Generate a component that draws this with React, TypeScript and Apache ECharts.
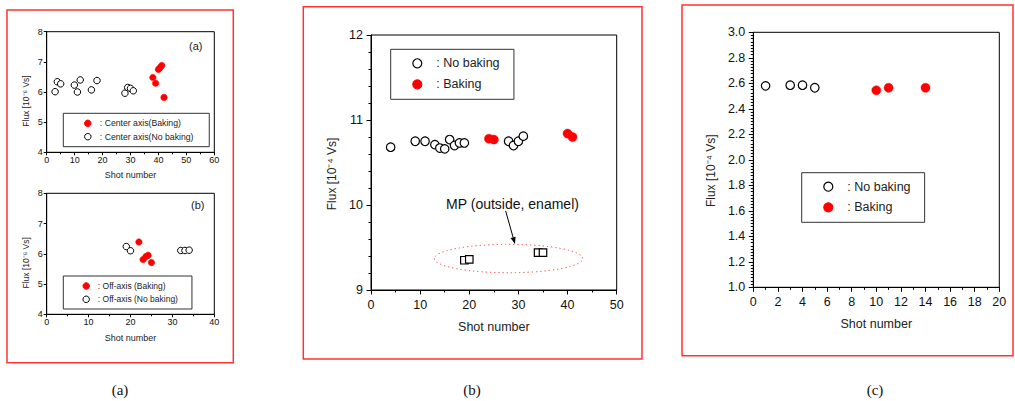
import React, { useEffect, useRef } from "react";
import * as echarts from "echarts";

// ---- data ----
const centerBaking = [[38, 6.48], [39, 6.29], [40, 6.75], [40.6, 6.81], [41.2, 6.88], [42, 5.82]];
const centerNoBaking = [[3, 6.01], [3.8, 6.34], [5, 6.27], [9.9, 6.23], [11, 6.0], [12, 6.4], [16, 6.07], [18, 6.38], [28, 5.96], [29, 6.15], [30, 6.12], [31, 6.04]];
const offBaking = [[22, 6.39], [23, 5.81], [23.7, 5.91], [24.2, 5.95], [25, 5.71]];
const offNoBaking = [[19, 6.24], [20, 6.1], [32, 6.11], [33, 6.11], [34, 6.12]];
const bNoBaking = [[4, 10.68], [9, 10.75], [11, 10.75], [13, 10.71], [14, 10.67], [15, 10.66], [16, 10.77], [17, 10.7], [18, 10.73], [19, 10.73], [28, 10.75], [29, 10.7], [30, 10.75], [31, 10.81]];
const bBaking = [[24, 10.78], [25, 10.77], [40, 10.84], [41, 10.8]];
const mpPoints = [[19, 9.35], [20, 9.36], [34, 9.44], [35, 9.44]];
const cNoBaking = [[1, 2.58], [3, 2.585], [4, 2.585], [5, 2.565]];
const cBaking = [[10, 2.545], [11, 2.565], [14, 2.565]];
// annotation (data coordinates): ellipse centre + radii, arrow, label
const mpEllipse = [28, 9.37, 15.1, 0.167];
const mpArrow = [[27.4, 9.93], [29.3, 9.54]];
const mpLabelPos = [28.8, 10.01];
const mpLabel = "MP (outside, enamel)";

const FONT = "'Liberation Sans', Arial, sans-serif";
const SERIF = "'Liberation Serif', 'Times New Roman', serif";
const RED = "#ff0000";

function xAxis(gi: number, max: number, interval: number, fs: number, margin: number, nameGap: number, tickLen: number, minorLen: number) {
  return {
    type: "value", gridIndex: gi, min: 0, max, interval,
    name: "Shot number", nameLocation: "middle", nameGap,
    nameTextStyle: { fontFamily: FONT, fontSize: fs, color: "#222" },
    axisLine: { show: true, onZero: false, lineStyle: { color: "#000", width: 1 } },
    axisTick: { show: true, inside: false, length: tickLen, lineStyle: { color: "#000" } },
    minorTick: { show: true, splitNumber: 2, length: minorLen, lineStyle: { color: "#000" } },
    axisLabel: { fontFamily: FONT, fontSize: fs, color: "#111", margin },
    splitLine: { show: false },
  };
}

function yAxis(gi: number, min: number, max: number, interval: number, name: string, fs: number, nfs: number, margin: number, nameGap: number, namePad: number, tickLen: number, minorSplit: number, minorLen: number, dec: number) {
  return {
    type: "value", gridIndex: gi, min, max, interval,
    name, nameLocation: "middle", nameGap, nameRotate: 90,
    nameTextStyle: { fontFamily: FONT, fontSize: nfs, color: "#222", padding: [0, namePad, 0, 0] },
    axisLine: { show: true, onZero: false, lineStyle: { color: "#000", width: 1 } },
    axisTick: { show: true, inside: false, length: tickLen, lineStyle: { color: "#000" } },
    minorTick: { show: minorSplit > 0, splitNumber: minorSplit || 5, length: minorLen, lineStyle: { color: "#000" } },
    axisLabel: { fontFamily: FONT, fontSize: fs, color: "#111", margin, formatter: (v: number) => v.toFixed(dec) },
    splitLine: { show: false },
  };
}

function openSeries(name: string, data: number[][], gi: number, size: number, bw: number, symbol = "circle") {
  return {
    type: "scatter", name, data, xAxisIndex: gi, yAxisIndex: gi, symbol, symbolSize: size,
    itemStyle: { color: "#fff", borderColor: "#000", borderWidth: bw, opacity: 1 },
    emphasis: { disabled: true }, z: 3,
  };
}
function redSeries(name: string, data: number[][], gi: number, size: number) {
  return {
    type: "scatter", name, data, xAxisIndex: gi, yAxisIndex: gi, symbol: "circle", symbolSize: size,
    itemStyle: { color: RED, borderColor: RED, borderWidth: 0.5, opacity: 1 },
    emphasis: { disabled: true }, z: 3,
  };
}

function legend(names: string[], left: number, top: number, iw: number, gap: number, pad: number[], fs: number, lh: number, textPad: number, bw: number) {
  return {
    data: names, left, top, orient: "vertical", icon: "circle", selectedMode: false,
    itemWidth: iw, itemHeight: iw, itemGap: gap, padding: pad,
    borderColor: "#333", borderWidth: 1, backgroundColor: "transparent",
    itemStyle: { borderWidth: bw },
    textStyle: { fontFamily: FONT, fontSize: fs, lineHeight: lh, color: "#222", padding: [0, 0, 0, textPad] },
  };
}

export default function App() {
  const ref = useRef<HTMLDivElement>(null);
  useEffect(() => {
    if (!ref.current) return;
    const chart = echarts.init(ref.current, null, { renderer: "svg" });
    const gridBase = { show: true, borderColor: "#000", borderWidth: 1, backgroundColor: "transparent", containLabel: false };
    chart.setOption({
      animation: false,
      backgroundColor: "#fff",
      grid: [
        { ...gridBase, left: 46.7, top: 31.7, width: 167.6, height: 120.6 },
        { ...gridBase, left: 46.7, top: 193.3, width: 167.6, height: 121 },
        { ...gridBase, left: 371, top: 35, width: 245.7, height: 255 },
        { ...gridBase, left: 753.3, top: 32.3, width: 246, height: 255 },
      ],
      xAxis: [
        xAxis(0, 60, 10, 9, 3, 18.5, 3, 2),
        xAxis(1, 40, 10, 9, 3, 19, 3, 2),
        xAxis(2, 50, 10, 12.5, 8, 30, 4.5, 2.5),
        xAxis(3, 20, 2, 12.5, 8, 30, 4.5, 2.5),
      ],
      yAxis: [
        yAxis(0, 4, 8, 1, "Flux [10\u207B\u2076 Vs]", 9, 8.5, 4, 16, 18, 3, 0, 2, 0),
        yAxis(1, 4, 8, 1, "Flux [10\u207B\u2076 Vs]", 9, 8.5, 4, 16, 18, 3, 0, 2, 0),
        yAxis(2, 9, 12, 1, "Flux [10\u207B\u2074 Vs]", 12.5, 12, 8, 33, 23, 4.5, 5, 2.5, 0),
        yAxis(3, 1, 3, 0.2, "Flux [10\u207B\u2074 Vs]", 12.5, 12, 8, 36, 22, 4.5, 8, 2.5, 1),
      ],
      legend: [
        legend([": Center axis(Baking)", ": Center axis(No baking)"], 63.3, 113.3, 6.5, 3.4, [5, 15.8, 5, 20.75], 8.7, 10, 3.75, 1),
        legend([": Off-axis (Baking)", ": Off-axis (No baking)"], 63.3, 276, 6.5, 3.3, [5, 14, 4.7, 19.15], 8.5, 10, 3.35, 1),
        legend([": No baking", ": Baking"], 390.7, 49.3, 9, 7, [7, 14.4, 8, 21.5], 12.5, 14, 9.5, 1.2),
        legend([": No baking", ": Baking"], 801.7, 172.7, 9, 6.6, [7, 14.1, 8, 21.5], 12.5, 14, 9.5, 1.2),
      ],
      series: [
        redSeries(": Center axis(Baking)", centerBaking, 0, 6.5),
        openSeries(": Center axis(No baking)", centerNoBaking, 0, 6.5, 1),
        redSeries(": Off-axis (Baking)", offBaking, 1, 6.5),
        openSeries(": Off-axis (No baking)", offNoBaking, 1, 6.5, 1),
        openSeries(": No baking", bNoBaking, 2, 8.5, 1.2),
        redSeries(": Baking", bBaking, 2, 9),
        openSeries("MP", mpPoints, 2, 7.5, 1.2, "rect"),
        {
          type: "custom", name: "MP annotation", xAxisIndex: 2, yAxisIndex: 2, clip: false, z: 1,
          data: [[mpEllipse[0], mpEllipse[1]]],
          renderItem: (_p: any, api: any) => {
            const c = api.coord([mpEllipse[0], mpEllipse[1]]);
            const s = api.size([mpEllipse[2], mpEllipse[3]]);
            const rx = s[0], ry = s[1];
            const p0 = api.coord(mpArrow[0]);
            const p1 = api.coord(mpArrow[1]);
            const ang = Math.atan2(p1[1] - p0[1], p1[0] - p0[0]);
            const cs = Math.cos(ang), sn = Math.sin(ang);
            const hl = 7, hw = 2.6;
            const bx = p1[0] - hl * cs, by = p1[1] - hl * sn;
            const t = api.coord(mpLabelPos);
            const d = `M ${c[0] - rx} ${c[1]} A ${rx} ${ry} 0 1 0 ${c[0] + rx} ${c[1]} A ${rx} ${ry} 0 1 0 ${c[0] - rx} ${c[1]} Z`;
            return {
              type: "group",
              children: [
                { type: "path", shape: { pathData: d }, style: { fill: "none", stroke: "#f33", lineWidth: 1, lineDash: [1.2, 3] } },
                { type: "line", shape: { x1: p0[0], y1: p0[1], x2: bx, y2: by }, style: { stroke: "#000", lineWidth: 1 } },
                { type: "polygon", shape: { points: [[p1[0], p1[1]], [bx - hw * sn, by + hw * cs], [bx + hw * sn, by - hw * cs]] }, style: { fill: "#000" } },
                { type: "text", style: { text: mpLabel, x: t[0], y: t[1], align: "center", verticalAlign: "middle", fontSize: 14, fontFamily: FONT, fill: "#111" } },
              ],
            };
          },
        },
        openSeries(": No baking", cNoBaking, 3, 8.5, 1.2),
        redSeries(": Baking", cBaking, 3, 9),
      ],
      graphic: [
        { type: "rect", shape: { x: 7, y: 10, width: 226.3, height: 352.7 }, style: { fill: "none", stroke: "#f33", lineWidth: 1.5 } },
        { type: "rect", shape: { x: 303.3, y: 6.7, width: 338.7, height: 352.3 }, style: { fill: "none", stroke: "#f33", lineWidth: 1.5 } },
        { type: "rect", shape: { x: 682, y: 5, width: 331, height: 350.7 }, style: { fill: "none", stroke: "#f33", lineWidth: 1.5 } },
        { type: "text", x: 195.7, y: 45.7, style: { text: "(a)", align: "center", verticalAlign: "middle", fontSize: 11, fontFamily: FONT, fill: "#222" } },
        { type: "text", x: 197.7, y: 205, style: { text: "(b)", align: "center", verticalAlign: "middle", fontSize: 11, fontFamily: FONT, fill: "#222" } },
        { type: "text", x: 120, y: 390, style: { text: "(a)", align: "center", verticalAlign: "middle", fontSize: 15, fontFamily: SERIF, fill: "#111" } },
        { type: "text", x: 472, y: 390, style: { text: "(b)", align: "center", verticalAlign: "middle", fontSize: 15, fontFamily: SERIF, fill: "#111" } },
        { type: "text", x: 875, y: 390, style: { text: "(c)", align: "center", verticalAlign: "middle", fontSize: 15, fontFamily: SERIF, fill: "#111" } },
      ],
    });
    return () => chart.dispose();
  }, []);
  return <div ref={ref} style={{ position: "absolute", left: 0, top: 0, width: 1015, height: 401, background: "#fff" }} />;
}
